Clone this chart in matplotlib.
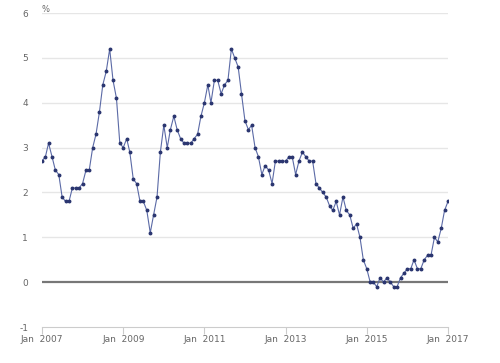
import matplotlib
matplotlib.use("Agg")
import matplotlib.pyplot as plt
import pandas as pd

plt.rcParams["axes.unicode_minus"] = False

# monthly rate, Jan 2007 .. Jan 2017
v2007 = [2.7, 2.8, 3.1, 2.8, 2.5, 2.4, 1.9, 1.8, 1.8, 2.1, 2.1, 2.1]
v2008 = [2.2, 2.5, 2.5, 3.0, 3.3, 3.8, 4.4, 4.7, 5.2, 4.5, 4.1, 3.1]
v2009 = [3.0, 3.2, 2.9, 2.3, 2.2, 1.8, 1.8, 1.6, 1.1, 1.5, 1.9, 2.9]
v2010 = [3.5, 3.0, 3.4, 3.7, 3.4, 3.2, 3.1, 3.1, 3.1, 3.2, 3.3, 3.7]
v2011 = [4.0, 4.4, 4.0, 4.5, 4.5, 4.2, 4.4, 4.5, 5.2, 5.0, 4.8, 4.2]
v2012 = [3.6, 3.4, 3.5, 3.0, 2.8, 2.4, 2.6, 2.5, 2.2, 2.7, 2.7, 2.7]
v2013 = [2.7, 2.8, 2.8, 2.4, 2.7, 2.9, 2.8, 2.7, 2.7, 2.2, 2.1, 2.0]
v2014 = [1.9, 1.7, 1.6, 1.8, 1.5, 1.9, 1.6, 1.5, 1.2, 1.3, 1.0, 0.5]
v2015 = [0.3, 0.0, 0.0, -0.1, 0.1, 0.0, 0.1, 0.0, -0.1, -0.1, 0.1, 0.2]
v2016 = [0.3, 0.3, 0.5, 0.3, 0.3, 0.5, 0.6, 0.6, 1.0, 0.9, 1.2, 1.6]
v2017 = [1.8]

wartosci = v2007 + v2008 + v2009 + v2010 + v2011 + v2012 + v2013 + v2014 + v2015 + v2016 + v2017
daty = pd.date_range("2007-01-01", periods=len(wartosci), freq="MS")

lata_ticki = [2007, 2009, 2011, 2013, 2015, 2017]
ticki = [pd.Timestamp(f"{r}-01-01") for r in lata_ticki]
etykiety = [f"Jan  {r}" for r in lata_ticki]

szary = "#666666"

fig = plt.figure(figsize=(5, 3.63), dpi=100)
ax = fig.add_axes([0.084, 0.099, 0.812, 0.865])

for y in range(-1, 7):
    if y == 0:
        ax.axhline(y, color="#777777", lw=1.6, zorder=1)
    elif y != -1:
        ax.axhline(y, color="#e6e6e6", lw=1, zorder=0)

ax.plot(daty, wartosci, color="#5b6aa6", lw=0.8, marker="o", ms=1.8,
        mfc="#2b3670", mec="#2b3670", zorder=3)

ax.set_xlim(ticki[0], ticki[-1])
ax.set_ylim(-1, 6)
ax.set_yticks(range(-1, 7))
ax.set_xticks(ticki)
ax.set_xticklabels(etykiety)

for s in ["top", "right", "left"]:
    ax.spines[s].set_visible(False)
ax.spines["bottom"].set_color("#cccccc")
ax.spines["bottom"].set_linewidth(0.8)

ax.tick_params(axis="y", length=0, labelsize=6.5, labelcolor=szary, pad=10)
ax.tick_params(axis="x", length=5, width=0.8, color="#cccccc",
               labelsize=6.5, labelcolor=szary, pad=0.5)

fig.text(0.084, 0.975, "%", fontsize=6, color=szary, ha="left", va="center")

fig.savefig("out.png", dpi=100, facecolor="white")
